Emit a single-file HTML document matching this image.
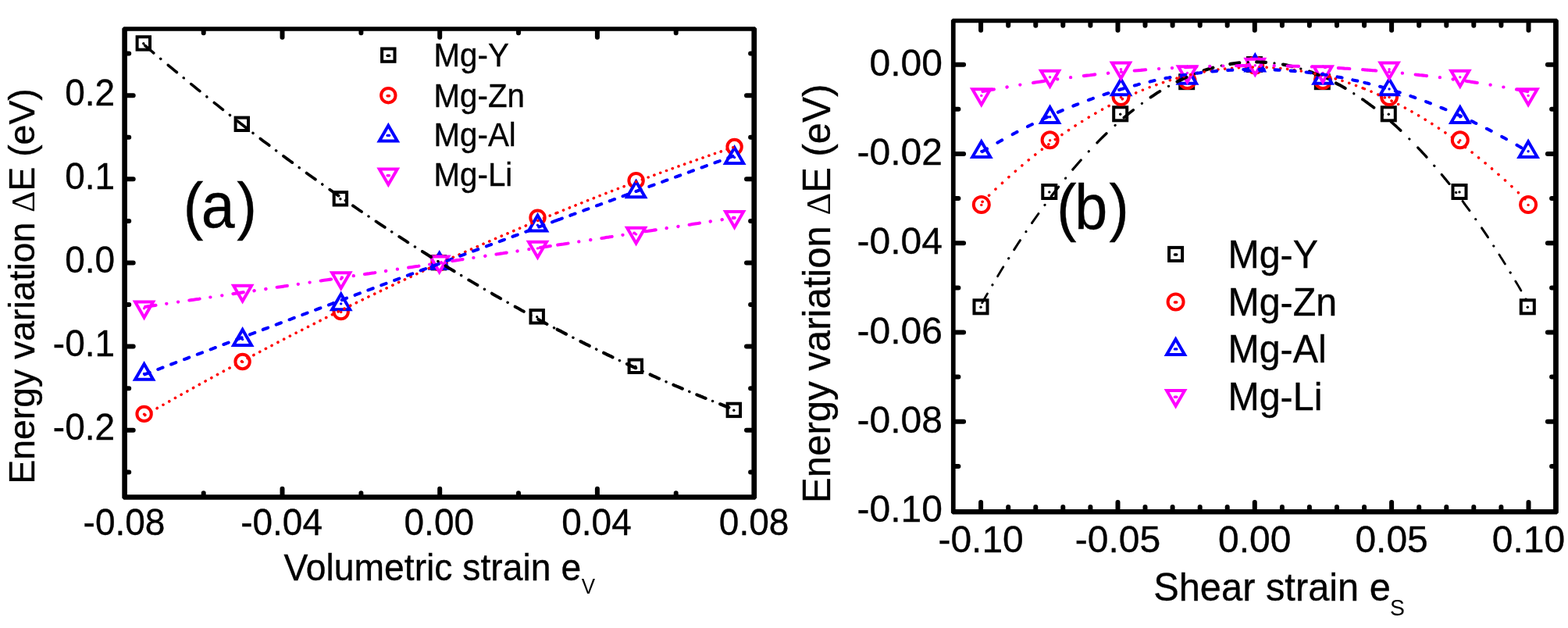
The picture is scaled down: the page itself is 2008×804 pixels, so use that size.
<!DOCTYPE html>
<html lang="en"><head><meta charset="utf-8"><title>Energy variation versus strain</title>
<style>html,body{margin:0;padding:0;background:#fff}body{width:2008px;height:804px;overflow:hidden}svg{display:block}text{font-family:'Liberation Sans',Arial,Helvetica,sans-serif;fill:#000;stroke:#000;stroke-width:.35px}.sym{font-family:'Liberation Serif','DejaVu Serif',serif;stroke-width:0}.sub{stroke-width:0}</style>
</head><body>
<svg width="2008" height="804" viewBox="0 0 2008 804" role="img" aria-label="Energy variation versus volumetric and shear strain for Mg-Y, Mg-Zn, Mg-Al and Mg-Li">
<rect width="2008" height="804" fill="#fff"/>
<g id="panel-a">
<g fill="#fff" stroke-width="4.0" stroke-linejoin="miter">
<rect x="175.6" y="47.2" width="16.4" height="16.4" stroke="#000000"/>
<circle cx="183.8" cy="55.8" r="1.7" fill="#000000"/>
<rect x="301.6" y="150.6" width="16.4" height="16.4" stroke="#000000"/>
<circle cx="309.8" cy="159.2" r="1.7" fill="#000000"/>
<rect x="427.7" y="246.1" width="16.4" height="16.4" stroke="#000000"/>
<circle cx="435.9" cy="254.7" r="1.7" fill="#000000"/>
<rect x="553.7" y="328.0" width="16.4" height="16.4" stroke="#000000"/>
<circle cx="561.9" cy="336.6" r="1.7" fill="#000000"/>
<rect x="679.5" y="397.1" width="16.4" height="16.4" stroke="#000000"/>
<circle cx="687.7" cy="405.7" r="1.7" fill="#000000"/>
<rect x="805.6" y="460.6" width="16.4" height="16.4" stroke="#000000"/>
<circle cx="813.8" cy="469.2" r="1.7" fill="#000000"/>
<rect x="931.6" y="516.7" width="16.4" height="16.4" stroke="#000000"/>
<circle cx="939.8" cy="525.3" r="1.7" fill="#000000"/>
<circle cx="184.6" cy="529.9" r="9.2" stroke="#ff0000"/>
<circle cx="184.6" cy="530.3" r="1.7" fill="#ff0000"/>
<circle cx="310.6" cy="463.0" r="9.2" stroke="#ff0000"/>
<circle cx="310.6" cy="463.4" r="1.7" fill="#ff0000"/>
<circle cx="436.7" cy="399.1" r="9.2" stroke="#ff0000"/>
<circle cx="436.7" cy="399.5" r="1.7" fill="#ff0000"/>
<circle cx="562.7" cy="336.3" r="9.2" stroke="#ff0000"/>
<circle cx="562.7" cy="336.7" r="1.7" fill="#ff0000"/>
<circle cx="688.5" cy="278.6" r="9.2" stroke="#ff0000"/>
<circle cx="688.5" cy="279.0" r="1.7" fill="#ff0000"/>
<circle cx="814.6" cy="231.2" r="9.2" stroke="#ff0000"/>
<circle cx="814.6" cy="231.6" r="1.7" fill="#ff0000"/>
<circle cx="940.6" cy="188.0" r="9.2" stroke="#ff0000"/>
<circle cx="940.6" cy="188.4" r="1.7" fill="#ff0000"/>
<path d="M173.1 485.8H196.1L184.6 466.0Z" stroke="#0000ff"/>
<circle cx="184.6" cy="478.5" r="1.7" fill="#0000ff"/>
<path d="M299.1 441.9H322.1L310.6 422.1Z" stroke="#0000ff"/>
<circle cx="310.6" cy="434.6" r="1.7" fill="#0000ff"/>
<path d="M425.2 396.2H448.2L436.7 376.4Z" stroke="#0000ff"/>
<circle cx="436.7" cy="388.9" r="1.7" fill="#0000ff"/>
<path d="M551.2 343.7H574.2L562.7 323.9Z" stroke="#0000ff"/>
<circle cx="562.7" cy="336.4" r="1.7" fill="#0000ff"/>
<path d="M677.0 295.6H700.0L688.5 275.8Z" stroke="#0000ff"/>
<circle cx="688.5" cy="288.3" r="1.7" fill="#0000ff"/>
<path d="M803.1 252.3H826.1L814.6 232.5Z" stroke="#0000ff"/>
<circle cx="814.6" cy="245.0" r="1.7" fill="#0000ff"/>
<path d="M929.1 208.9H952.1L940.6 189.1Z" stroke="#0000ff"/>
<circle cx="940.6" cy="201.6" r="1.7" fill="#0000ff"/>
<path d="M173.1 386.6H196.1L184.6 406.4Z" stroke="#ff00ff"/>
<circle cx="184.6" cy="394.7" r="1.7" fill="#ff00ff"/>
<path d="M299.1 365.8H322.1L310.6 385.6Z" stroke="#ff00ff"/>
<circle cx="310.6" cy="373.9" r="1.7" fill="#ff00ff"/>
<path d="M425.2 349.2H448.2L436.7 369.0Z" stroke="#ff00ff"/>
<circle cx="436.7" cy="357.3" r="1.7" fill="#ff00ff"/>
<path d="M551.2 328.4H574.2L562.7 348.2Z" stroke="#ff00ff"/>
<circle cx="562.7" cy="336.5" r="1.7" fill="#ff00ff"/>
<path d="M677.0 309.8H700.0L688.5 329.6Z" stroke="#ff00ff"/>
<circle cx="688.5" cy="317.9" r="1.7" fill="#ff00ff"/>
<path d="M803.1 291.8H826.1L814.6 311.6Z" stroke="#ff00ff"/>
<circle cx="814.6" cy="299.9" r="1.7" fill="#ff00ff"/>
<path d="M929.1 271.1H952.1L940.6 290.9Z" stroke="#ff00ff"/>
<circle cx="940.6" cy="279.2" r="1.7" fill="#ff00ff"/>
</g>
<g fill="none" stroke-linecap="round" stroke-linejoin="round">
<path d="M205.6 75.2L205.7 75.3L205.8 75.4M235.2 99.8L235.3 99.9L235.4 99.9M264.8 123.8L264.9 124.0L264.9 124.0M294.3 147.3L294.5 147.5L294.5 147.5M323.9 170.3L324.1 170.4M353.5 192.7L353.7 192.9M383.1 214.6L383.3 214.7L383.3 214.7M412.7 235.9L412.9 236.1L412.9 236.1M442.3 256.7L442.5 256.8L442.5 256.9M472.0 277.0L472.1 277.1L472.2 277.1M501.6 296.7L501.7 296.8L501.8 296.9M531.3 315.9L531.5 316.0M560.9 334.5L561.1 334.7M590.6 352.6L590.8 352.7L590.8 352.8M620.3 370.2L620.4 370.2L620.5 370.3M650.0 387.2L650.2 387.3M679.7 403.6L679.9 403.7L679.9 403.8M709.4 419.6L709.5 419.6L709.6 419.7M733.8 432.2L734.0 432.3L734.0 432.3M763.6 447.1L763.6 447.1L763.8 447.2M793.3 461.5L793.4 461.5L793.5 461.6M823.1 475.3L823.2 475.4L823.3 475.4M852.9 488.6L853.0 488.6L853.1 488.7M882.7 501.3L882.7 501.3L882.9 501.4M912.5 513.5L912.5 513.5L912.7 513.5" stroke="#000000" stroke-width="3.4"/>
<path d="M185.6 58.3L185.7 58.3L189.9 61.9L194.1 65.5L196.8 67.8M215.2 83.2L215.2 83.3L219.5 86.8L223.7 90.3L226.4 92.5M244.7 107.6L244.8 107.7L249.1 111.1L253.3 114.6L255.9 116.7M274.3 131.5L274.4 131.6L278.7 134.9L282.9 138.3L285.5 140.4M303.9 154.8L304.0 154.9L308.2 158.2L312.5 161.5L315.1 163.5" stroke="#000000" stroke-width="3.6"/>
<path d="M333.4 177.6L333.6 177.7L337.8 180.9L342.1 184.1L344.7 186.1M363.0 199.8L363.2 200.0L367.4 203.1L371.7 206.2L374.3 208.1M392.6 221.5L392.8 221.7L397.0 224.7L401.3 227.7L403.9 229.6M422.3 242.7L422.4 242.8L426.6 245.8L430.8 248.7L433.5 250.6M451.9 263.3L452.0 263.4L456.2 266.3L460.4 269.2L463.1 271.0M481.5 283.4L481.6 283.5L485.8 286.3L490.0 289.1L492.8 290.9M511.2 303.0L511.5 303.2L515.7 305.9L520.0 308.7L522.4 310.3" stroke="#000000" stroke-width="3.8"/>
<path d="M540.8 322.0L541.1 322.1L545.3 324.8L549.6 327.5L552.1 329.0M570.5 340.4L570.7 340.6L574.9 343.1L579.2 345.7L581.8 347.3M600.2 358.4L600.3 358.4L604.5 360.9L608.7 363.4L611.5 365.0M629.9 375.7L630.2 375.9L634.5 378.4L638.7 380.8L641.2 382.2M659.6 392.6L659.8 392.7L664.1 395.0L668.3 397.4L670.9 398.8M689.3 408.8L689.4 408.9L693.6 411.2L697.9 413.4L700.6 414.9" stroke="#000000" stroke-width="4"/>
<path d="M713.7 421.8L713.7 421.8L715.6 422.8L717.4 423.7L719.2 424.7L721.0 425.6L722.9 426.6L724.7 427.5L725.0 427.7M743.4 437.1L743.5 437.1L745.4 438.0L747.2 439.0L749.0 439.9L750.8 440.8L752.7 441.7L754.5 442.6L754.7 442.7M773.2 451.8L773.2 451.8L775.0 452.7L776.8 453.6L778.7 454.5L780.5 455.3L782.3 456.2L784.1 457.1L784.5 457.3M802.9 466.0L803.0 466.0L804.8 466.9L806.6 467.7L808.5 468.6L810.3 469.4L812.1 470.3L813.9 471.1L814.2 471.2M832.7 479.6L832.8 479.7L834.6 480.5L836.4 481.3L838.3 482.1L840.1 482.9L841.9 483.8L843.7 484.6L844.0 484.7M862.5 492.7L862.6 492.8L864.4 493.6L866.2 494.4L868.1 495.1L869.9 495.9L871.7 496.7L873.5 497.5L873.8 497.6M892.3 505.3L892.4 505.3L894.2 506.1L896.0 506.8L897.9 507.6L899.7 508.3L901.5 509.1L903.3 509.8L903.6 509.9M922.1 517.3L922.2 517.3L924.0 518.0L925.9 518.8L927.7 519.5L929.5 520.2L931.3 520.9L933.1 521.6L933.4 521.7" stroke="#000000" stroke-width="4.2"/>
<path d="M185.7 531.5L185.9 531.4M193.4 527.1L193.6 527.0M201.1 522.7L201.2 522.6L201.3 522.5M208.9 518.3L208.9 518.2L209.1 518.2M216.6 513.9L216.7 513.9L216.8 513.8M224.3 509.5L224.4 509.5L224.5 509.4M232.1 505.2L232.2 505.1L232.2 505.1M239.8 500.9L239.9 500.8L240.0 500.8M247.5 496.6L247.7 496.5L247.7 496.5M255.2 492.3L255.4 492.2L255.4 492.2M263.0 488.0L263.2 487.9L263.2 487.9M270.7 483.8L270.9 483.7M278.4 479.6L278.6 479.4M286.2 475.3L286.4 475.2M293.9 471.2L294.1 471.1M301.6 467.0L301.8 466.9M309.4 462.8L309.6 462.7M317.1 458.7L317.3 458.6M324.8 454.6L325.0 454.5M332.6 450.5L332.6 450.5L332.8 450.4M340.3 446.4L340.3 446.4L340.5 446.3M348.0 442.4L348.1 442.3L348.2 442.3M355.8 438.3L355.8 438.3L356.0 438.2M363.5 434.3L363.6 434.3L363.7 434.2M371.2 430.3L371.3 430.3L371.4 430.2M379.0 426.3L379.1 426.3L379.2 426.2M386.7 422.4L386.8 422.3L386.9 422.3M394.4 418.4L394.6 418.4L394.6 418.3M402.2 414.5L402.3 414.4L402.4 414.4M409.9 410.6L410.1 410.5L410.1 410.5M417.6 406.7L417.8 406.6L417.8 406.6M425.4 402.8L425.6 402.7L425.6 402.7M433.1 399.0L433.3 398.9L433.3 398.9M440.9 395.2L441.1 395.1M448.6 391.3L448.8 391.2M456.3 387.6L456.5 387.5M464.1 383.8L464.3 383.7M471.8 380.0L472.0 379.9M479.6 376.3L479.8 376.2M487.3 372.6L487.5 372.5M495.0 368.9L495.2 368.8M502.8 365.2L503.0 365.1M510.5 361.5L510.7 361.4M518.3 357.9L518.5 357.8M526.0 354.3L526.2 354.2M533.7 350.7L533.9 350.6M541.5 347.1L541.7 347.0M549.2 343.5L549.4 343.4M557.0 340.0L557.2 339.9M564.7 336.4L564.9 336.3M572.5 332.9L572.7 332.8M580.2 329.4L580.4 329.3M588.0 326.0L588.0 326.0L588.2 325.9M595.7 322.5L595.7 322.5L595.9 322.4M603.4 319.1L603.5 319.1L603.6 319.0M611.2 315.7L611.2 315.7L611.4 315.6M618.9 312.3L619.0 312.3L619.1 312.2M626.7 308.9L626.7 308.9L626.9 308.8M634.4 305.5L634.5 305.5L634.6 305.4M642.2 302.2L642.2 302.2L642.4 302.1M649.9 298.9L650.0 298.9L650.1 298.8M657.7 295.6L657.7 295.6L657.9 295.5M665.4 292.3L665.5 292.3L665.6 292.2M673.2 289.0L673.2 289.0L673.4 288.9M680.9 285.8L681.0 285.8L681.1 285.7M688.7 282.5L688.7 282.5L688.9 282.5M696.4 279.3L696.5 279.3L696.6 279.3M704.2 276.2L704.2 276.1L704.4 276.1M711.9 273.0L712.0 273.0L712.1 272.9M713.8 272.2L713.9 272.2L714.0 272.2M721.5 269.1L721.6 269.0L721.7 269.0M729.3 266.0L729.4 265.9L729.5 265.9M737.0 262.9L737.1 262.8L737.2 262.8M744.8 259.8L744.9 259.7L745.0 259.7M752.5 256.7L752.7 256.7L752.7 256.6M760.3 253.7L760.4 253.6L760.5 253.6M768.0 250.6L768.2 250.6L768.2 250.5M775.8 247.6L775.9 247.6L776.0 247.5M783.5 244.6L783.7 244.6L783.7 244.5M791.3 241.6L791.4 241.6L791.5 241.6M799.1 238.7L799.2 238.6L799.2 238.6M806.8 235.7L806.9 235.7L807.0 235.7M814.6 232.8L814.7 232.8L814.8 232.8M822.3 229.9L822.5 229.9L822.5 229.9M830.1 227.0L830.2 227.0L830.3 227.0M837.8 224.2L838.0 224.1L838.0 224.1M845.6 221.3L845.7 221.3L845.8 221.3M853.4 218.5L853.5 218.5L853.6 218.5M861.1 215.7L861.2 215.7L861.3 215.6M868.9 212.9L869.0 212.9L869.1 212.9M876.6 210.2L876.7 210.1L876.8 210.1M884.4 207.4L884.5 207.4L884.6 207.4M892.2 204.7L892.2 204.7L892.3 204.6M899.9 202.0L900.0 202.0L900.1 201.9M907.7 199.3L907.8 199.3L907.9 199.2M915.4 196.6L915.5 196.6L915.6 196.6M923.2 194.0L923.3 193.9L923.4 193.9M931.0 191.3L931.0 191.3L931.2 191.3M938.7 188.7L938.8 188.7L938.9 188.7" stroke="#ff0000" stroke-width="3.6"/>
<path d="M185.4 479.3L185.7 479.2L189.9 477.6L191.7 476.9M202.3 472.9L202.6 472.8L206.8 471.2L208.5 470.5M219.1 466.5L219.1 466.5L223.4 464.9L225.3 464.1M235.9 460.1L236.0 460.1L240.3 458.5L242.2 457.7M252.7 453.7L252.9 453.7L257.2 452.1L259.0 451.4M269.6 447.4L269.9 447.3L274.1 445.7L275.8 445.0M286.4 441.0L286.4 441.0L290.6 439.4L292.6 438.6M303.2 434.6L303.3 434.6L307.5 433.0L309.5 432.3M320.0 428.3L320.2 428.2L324.5 426.6L326.3 425.9M336.8 422.0L337.1 421.8L341.4 420.3L343.1 419.6M353.7 415.6L353.7 415.6L357.9 414.0L359.9 413.3M370.5 409.3L370.6 409.3L374.8 407.7L376.7 406.9M387.3 403.0L387.5 402.9L391.7 401.3L393.6 400.6M404.1 396.7L404.4 396.6L408.6 395.0L410.4 394.3M421.0 390.4L421.0 390.4L425.2 388.8L427.2 388.0M437.8 384.1L437.9 384.0L442.1 382.4L444.0 381.7M454.6 377.8L454.8 377.7L459.0 376.1L460.9 375.4M471.4 371.5L471.7 371.4L475.9 369.8L477.7 369.2M488.3 365.2L488.3 365.2L492.5 363.6L494.5 362.9M505.1 358.9L505.2 358.9L509.4 357.3L511.3 356.6M521.9 352.7L522.1 352.6L526.3 351.0L528.2 350.4M538.7 346.4L539.0 346.3L543.2 344.8L545.0 344.1M555.6 340.2L555.9 340.1L560.1 338.5L561.8 337.9M572.4 333.9L572.5 333.9L576.7 332.4L578.6 331.6M589.2 327.7L589.4 327.7L593.6 326.1L595.5 325.4M606.0 321.5L606.3 321.4L610.5 319.8L612.3 319.2M622.9 315.3L623.2 315.2L627.4 313.6L629.1 313.0M639.7 309.1L639.7 309.1L644.0 307.5L645.9 306.8M656.5 302.9L656.7 302.8L660.9 301.3L662.8 300.6M673.3 296.7L673.6 296.6L677.8 295.0L679.6 294.4M690.2 290.5L690.5 290.4L694.7 288.8L696.4 288.2M707.0 284.3L707.0 284.3L711.3 282.7L712.7 282.2M713.5 281.9L713.6 281.9L715.4 281.2L717.2 280.6L719.1 279.9L719.8 279.6M730.3 275.8L730.5 275.7L732.3 275.0L734.1 274.4L735.9 273.7L736.6 273.5M747.2 269.6L747.2 269.6L749.0 268.9L750.8 268.2L752.7 267.6L753.4 267.3M764.0 263.4L764.1 263.4L765.9 262.7L767.7 262.1L769.5 261.4L770.2 261.2M780.8 257.3L780.9 257.2L782.8 256.6L784.6 255.9L786.4 255.2L787.1 255.0M797.6 251.2L797.7 251.1L799.5 250.5L801.3 249.8L803.1 249.1L803.9 248.9M814.5 245.0L814.5 245.0L816.4 244.3L818.2 243.7L820.0 243.0L820.7 242.7M831.3 238.9L831.4 238.9L833.2 238.2L835.1 237.5L836.9 236.9L837.6 236.6M848.1 232.8L848.1 232.8L850.0 232.1L851.8 231.4L853.6 230.8L854.4 230.5M865.0 226.7L865.0 226.6L866.9 226.0L868.7 225.3L870.5 224.7L871.2 224.4M881.8 220.6L881.9 220.5L883.7 219.9L885.6 219.2L887.4 218.5L888.0 218.3M898.6 214.5L898.6 214.5L900.5 213.8L902.3 213.1L904.1 212.5L904.9 212.2M915.4 208.4L915.5 208.4L917.3 207.7L919.2 207.0L921.0 206.4L921.7 206.1M932.3 202.3L932.4 202.3L934.2 201.6L936.0 200.9L937.9 200.3L938.5 200.0" stroke="#0000ff" stroke-width="4.1"/>
<path d="M186.1 392.8L186.4 392.7L190.6 392.1L194.8 391.5L199.0 390.9L199.5 390.8M242.3 384.5L242.4 384.5L246.6 383.9L250.8 383.2L255.1 382.6L255.6 382.5M298.4 376.2L298.7 376.1L303.0 375.5L307.2 374.9L311.4 374.3L311.8 374.2M354.6 367.8L354.8 367.8L359.0 367.2L363.2 366.6L367.4 365.9L367.9 365.9M410.7 359.5L410.8 359.5L415.0 358.8L419.2 358.2L423.4 357.6L424.1 357.5M466.9 351.0L467.1 351.0L471.4 350.4L475.6 349.7L479.8 349.1L480.3 349.0M523.1 342.6L523.1 342.6L527.4 341.9L531.6 341.3L535.8 340.7L536.4 340.6M579.2 334.1L579.5 334.1L583.7 333.4L588.0 332.8L592.2 332.1L592.6 332.1M635.4 325.6L635.5 325.6L639.7 324.9L644.0 324.3L648.2 323.6L648.8 323.6M691.6 317.0L691.9 317.0L696.1 316.3L700.3 315.7L704.6 315.0L704.9 315.0M714.2 313.6L714.2 313.6L716.0 313.3L717.8 313.0L719.7 312.7L721.5 312.5L723.3 312.2L725.1 311.9L727.0 311.6L727.5 311.5M770.3 305.0L770.4 305.0L772.3 304.7L774.1 304.4L775.9 304.1L777.7 303.8L779.6 303.6L781.4 303.3L783.2 303.0L783.7 302.9M826.5 296.3L826.6 296.3L828.4 296.0L830.2 295.8L832.0 295.5L833.9 295.2L835.7 294.9L837.5 294.6L839.3 294.4L839.8 294.3M882.6 287.7L882.7 287.7L884.5 287.4L886.3 287.1L888.1 286.8L890.0 286.5L891.8 286.2L893.6 286.0L895.4 285.7L896.0 285.6M938.8 279.0L938.9 278.9L940.6 278.7" stroke="#ff00ff" stroke-width="4.1"/>
<path d="M213.2 388.8L213.4 388.8M228.0 386.6L228.2 386.6M269.3 380.5L269.5 380.5L269.5 380.5M284.2 378.3L284.3 378.3L284.4 378.3M325.5 372.2L325.5 372.2L325.7 372.1M340.3 370.0L340.5 369.9M381.7 363.8L381.9 363.8M396.5 361.6L396.7 361.6L396.7 361.6M437.8 355.4L437.9 355.4L438.0 355.4M452.7 353.2L452.7 353.2L452.9 353.2M494.0 347.0L494.2 346.9M508.8 344.7L509.0 344.7M550.1 338.5L550.3 338.5L550.3 338.5M565.0 336.3L565.1 336.3L565.2 336.2M606.3 330.0L606.5 330.0M621.2 327.8L621.4 327.7M662.5 321.5L662.6 321.4L662.7 321.4M677.3 319.2L677.4 319.2L677.5 319.2M741.2 309.4L741.3 309.4L741.4 309.4M756.1 307.2L756.2 307.2L756.3 307.1M797.4 300.8L797.5 300.8L797.6 300.8M812.2 298.5L812.3 298.5L812.4 298.5M853.5 292.2L853.6 292.2L853.7 292.1M868.4 289.9L868.5 289.8L868.6 289.8M909.7 283.5L909.7 283.5L909.9 283.4M924.6 281.2L924.6 281.2L924.8 281.1" stroke="#ff00ff" stroke-width="4.2"/>
</g>
<path d="M361.5 635.5V625.7M361.5 38.0V47.8M563.2 635.5V625.7M563.2 38.0V47.8M764.9 635.5V625.7M764.9 38.0V47.8M260.7 635.5V631.3M260.7 38.0V42.2M462.4 635.5V631.3M462.4 38.0V42.2M664.0 635.5V631.3M664.0 38.0V42.2M865.7 635.5V631.3M865.7 38.0V42.2M160.6 550.8H170.7M964.8 550.8H956.0M160.6 443.6H170.7M964.8 443.6H956.0M160.6 336.5H170.7M964.8 336.5H956.0M160.6 229.3H170.7M964.8 229.3H956.0M160.6 122.2H170.7M964.8 122.2H956.0M160.6 604.4H165.2M964.8 604.4H961.1M160.6 497.2H165.2M964.8 497.2H961.1M160.6 390.1H165.2M964.8 390.1H961.1M160.6 282.9H165.2M964.8 282.9H961.1M160.6 175.8H165.2M964.8 175.8H961.1M160.6 68.6H165.2M964.8 68.6H961.1" stroke="#000" stroke-width="6.0" stroke-linecap="round" fill="none"/>
<path d="M158.50 34.20H966.90L969.10 36.40V637.45L966.90 639.65H158.50L156.30 637.45V36.40ZM162.90 39.70V633.35H962.40V39.70Z" fill="#000" fill-rule="evenodd"/>
<text transform="translate(159.0 684.6) scale(1.0 1.035)" font-size="46" text-anchor="middle">-0.08</text>
<text transform="translate(360.6 684.6) scale(1.0 1.035)" font-size="46" text-anchor="middle">-0.04</text>
<text transform="translate(562.3 684.6) scale(1.0 1.035)" font-size="46" text-anchor="middle">0.00</text>
<text transform="translate(764.0 684.6) scale(1.0 1.035)" font-size="46" text-anchor="middle">0.04</text>
<text transform="translate(965.6 684.6) scale(1.0 1.035)" font-size="46" text-anchor="middle">0.08</text>
<text transform="translate(147.1 134.8) scale(1.0 1.03)" font-size="46" text-anchor="end">0.2</text>
<text transform="translate(147.1 241.9) scale(1.0 1.03)" font-size="46" text-anchor="end">0.1</text>
<text transform="translate(147.1 349.1) scale(1.0 1.03)" font-size="46" text-anchor="end">0.0</text>
<text transform="translate(147.1 456.2) scale(1.0 1.03)" font-size="46" text-anchor="end">-0.1</text>
<text transform="translate(147.1 563.4) scale(1.0 1.03)" font-size="46" text-anchor="end">-0.2</text>
<text transform="translate(363.4 742.6) scale(1.0 1.03)" font-size="46.3" text-anchor="start">Volumetric strain e<tspan class="sub" font-size="26" dx="0.6" dy="16.4">V</tspan></text>
<text transform="translate(43.6 366.5) rotate(-90)" font-size="46.4" text-anchor="middle">Energy variation <tspan class="sym" font-size="42">Δ</tspan>E (eV)</text>
<text transform="translate(281.8 291.0) scale(1.0 1.06)" font-size="77" text-anchor="middle">(<tspan dx="-2.6">a</tspan><tspan dx="2.6">)</tspan></text>
<g fill="#fff" stroke-width="4.0">
<rect x="489.1" y="62.4" width="16.4" height="16.4" stroke="#000000"/>
<path d="M496.1 71.2h2.4" stroke="#000000" stroke-width="3.4" stroke-linecap="round"/>
<circle cx="497.3" cy="122.2" r="9.2" stroke="#ff0000"/>
<path d="M496.1 122.8h2.4" stroke="#ff0000" stroke-width="3.4" stroke-linecap="round"/>
<path d="M485.8 180.5H508.8L497.3 160.7Z" stroke="#0000ff"/>
<path d="M496.1 173.4h2.4" stroke="#0000ff" stroke-width="3.4" stroke-linecap="round"/>
<path d="M485.8 216.5H508.8L497.3 236.3Z" stroke="#ff00ff"/>
<path d="M496.1 224.8h2.4" stroke="#ff00ff" stroke-width="3.4" stroke-linecap="round"/>
</g>
<text transform="translate(555.5 85.4) scale(1.0 1.04)" font-size="40.3" text-anchor="start">Mg-Y</text>
<text transform="translate(555.5 136.9) scale(1.0 1.04)" font-size="40.3" text-anchor="start">Mg-Zn</text>
<text transform="translate(555.5 187.3) scale(1.0 1.04)" font-size="40.3" text-anchor="start">Mg-Al</text>
<text transform="translate(555.5 238.2) scale(1.0 1.04)" font-size="40.3" text-anchor="start">Mg-Li</text>
</g>
<g id="panel-b">
<g fill="#fff" stroke-width="4.0" stroke-linejoin="miter">
<rect x="1247.5" y="384.3" width="17.0" height="17.0" stroke="#000000"/>
<circle cx="1256.0" cy="393.2" r="1.7" fill="#000000"/>
<rect x="1335.3" y="237.0" width="17.0" height="17.0" stroke="#000000"/>
<circle cx="1343.8" cy="245.9" r="1.7" fill="#000000"/>
<rect x="1426.2" y="137.3" width="17.0" height="17.0" stroke="#000000"/>
<circle cx="1434.7" cy="146.2" r="1.7" fill="#000000"/>
<rect x="1511.2" y="96.2" width="17.0" height="17.0" stroke="#000000"/>
<circle cx="1519.7" cy="105.1" r="1.7" fill="#000000"/>
<rect x="1598.0" y="74.0" width="17.0" height="17.0" stroke="#000000"/>
<circle cx="1606.5" cy="82.9" r="1.7" fill="#000000"/>
<rect x="1684.8" y="96.2" width="17.0" height="17.0" stroke="#000000"/>
<circle cx="1693.3" cy="105.1" r="1.7" fill="#000000"/>
<rect x="1769.8" y="137.3" width="17.0" height="17.0" stroke="#000000"/>
<circle cx="1778.3" cy="146.2" r="1.7" fill="#000000"/>
<rect x="1860.5" y="237.0" width="17.0" height="17.0" stroke="#000000"/>
<circle cx="1869.0" cy="245.9" r="1.7" fill="#000000"/>
<rect x="1947.8" y="384.3" width="17.0" height="17.0" stroke="#000000"/>
<circle cx="1956.3" cy="393.2" r="1.7" fill="#000000"/>
<circle cx="1256.8" cy="262.0" r="10.0" stroke="#ff0000"/>
<circle cx="1256.8" cy="262.4" r="1.7" fill="#ff0000"/>
<circle cx="1344.6" cy="179.3" r="10.0" stroke="#ff0000"/>
<circle cx="1344.6" cy="179.7" r="1.7" fill="#ff0000"/>
<circle cx="1435.5" cy="124.1" r="10.0" stroke="#ff0000"/>
<circle cx="1435.5" cy="124.5" r="1.7" fill="#ff0000"/>
<circle cx="1520.5" cy="103.0" r="10.0" stroke="#ff0000"/>
<circle cx="1520.5" cy="103.4" r="1.7" fill="#ff0000"/>
<circle cx="1607.3" cy="83.5" r="10.0" stroke="#ff0000"/>
<circle cx="1607.3" cy="83.9" r="1.7" fill="#ff0000"/>
<circle cx="1694.1" cy="103.0" r="10.0" stroke="#ff0000"/>
<circle cx="1694.1" cy="103.4" r="1.7" fill="#ff0000"/>
<circle cx="1779.1" cy="124.1" r="10.0" stroke="#ff0000"/>
<circle cx="1779.1" cy="124.5" r="1.7" fill="#ff0000"/>
<circle cx="1869.8" cy="179.3" r="10.0" stroke="#ff0000"/>
<circle cx="1869.8" cy="179.7" r="1.7" fill="#ff0000"/>
<circle cx="1957.1" cy="262.0" r="10.0" stroke="#ff0000"/>
<circle cx="1957.1" cy="262.4" r="1.7" fill="#ff0000"/>
<path d="M1245.3 201.0H1268.3L1256.8 181.2Z" stroke="#0000ff"/>
<circle cx="1256.8" cy="193.7" r="1.7" fill="#0000ff"/>
<path d="M1333.1 157.1H1356.1L1344.6 137.3Z" stroke="#0000ff"/>
<circle cx="1344.6" cy="149.8" r="1.7" fill="#0000ff"/>
<path d="M1424.0 121.3H1447.0L1435.5 101.5Z" stroke="#0000ff"/>
<circle cx="1435.5" cy="114.0" r="1.7" fill="#0000ff"/>
<path d="M1509.0 106.7H1532.0L1520.5 86.9Z" stroke="#0000ff"/>
<circle cx="1520.5" cy="99.4" r="1.7" fill="#0000ff"/>
<path d="M1595.8 90.6H1618.8L1607.3 70.8Z" stroke="#0000ff"/>
<circle cx="1607.3" cy="83.3" r="1.7" fill="#0000ff"/>
<path d="M1682.6 106.7H1705.6L1694.1 86.9Z" stroke="#0000ff"/>
<circle cx="1694.1" cy="99.4" r="1.7" fill="#0000ff"/>
<path d="M1767.6 121.3H1790.6L1779.1 101.5Z" stroke="#0000ff"/>
<circle cx="1779.1" cy="114.0" r="1.7" fill="#0000ff"/>
<path d="M1858.3 157.1H1881.3L1869.8 137.3Z" stroke="#0000ff"/>
<circle cx="1869.8" cy="149.8" r="1.7" fill="#0000ff"/>
<path d="M1945.6 201.0H1968.6L1957.1 181.2Z" stroke="#0000ff"/>
<circle cx="1957.1" cy="193.7" r="1.7" fill="#0000ff"/>
<path d="M1245.3 114.3H1268.3L1256.8 134.1Z" stroke="#ff00ff"/>
<circle cx="1256.8" cy="122.4" r="1.7" fill="#ff00ff"/>
<path d="M1333.1 90.7H1356.1L1344.6 110.5Z" stroke="#ff00ff"/>
<circle cx="1344.6" cy="98.8" r="1.7" fill="#ff00ff"/>
<path d="M1424.0 80.5H1447.0L1435.5 100.3Z" stroke="#ff00ff"/>
<circle cx="1435.5" cy="88.6" r="1.7" fill="#ff00ff"/>
<path d="M1509.0 85.3H1532.0L1520.5 105.1Z" stroke="#ff00ff"/>
<circle cx="1520.5" cy="93.4" r="1.7" fill="#ff00ff"/>
<path d="M1595.8 75.7H1618.8L1607.3 95.5Z" stroke="#ff00ff"/>
<circle cx="1607.3" cy="83.8" r="1.7" fill="#ff00ff"/>
<path d="M1682.6 85.3H1705.6L1694.1 105.1Z" stroke="#ff00ff"/>
<circle cx="1694.1" cy="93.4" r="1.7" fill="#ff00ff"/>
<path d="M1767.6 80.5H1790.6L1779.1 100.3Z" stroke="#ff00ff"/>
<circle cx="1779.1" cy="88.6" r="1.7" fill="#ff00ff"/>
<path d="M1858.3 90.7H1881.3L1869.8 110.5Z" stroke="#ff00ff"/>
<circle cx="1869.8" cy="98.8" r="1.7" fill="#ff00ff"/>
<path d="M1945.6 114.3H1968.6L1957.1 134.1Z" stroke="#ff00ff"/>
<circle cx="1957.1" cy="122.4" r="1.7" fill="#ff00ff"/>
</g>
<g fill="none" stroke-linecap="round" stroke-linejoin="round">
<path d="M1257.7 387.8L1257.8 387.6L1261.7 380.8L1264.5 375.9M1277.6 353.7L1277.7 353.5L1281.6 347.0L1284.8 341.8M1919.9 326.0L1920.1 326.2L1921.7 328.9L1923.4 331.6L1925.1 334.3L1926.8 337.0L1927.4 337.9M1940.8 360.1L1940.9 360.2L1942.6 363.0L1944.3 365.9L1946.0 368.8L1947.7 371.7L1947.9 372.0" stroke="#000000" stroke-width="2.8"/>
<path d="M1298.7 319.6L1298.9 319.4L1302.8 313.3L1306.5 307.7M1321.5 285.5L1321.7 285.1L1325.7 279.5L1329.6 274.0L1329.9 273.5M1873.1 257.6L1873.2 257.7L1874.8 260.0L1876.5 262.3L1878.2 264.6L1879.9 266.9L1881.6 269.2L1881.9 269.6M1897.5 291.8L1897.5 291.9L1899.2 294.4L1900.9 296.9L1902.6 299.4L1904.3 301.9L1905.5 303.8" stroke="#000000" stroke-width="3"/>
<path d="M1270.9 364.9L1271.0 364.7M1291.6 330.8L1291.7 330.7L1291.8 330.6M1313.9 296.7L1313.9 296.6L1314.0 296.5M1337.9 262.5L1338.1 262.3L1338.1 262.3M1364.4 228.2L1364.5 228.2L1364.6 228.0M1394.2 194.0L1394.4 193.7M1428.0 160.5L1428.1 160.4L1428.2 160.3M1462.3 132.5L1462.4 132.4L1462.5 132.3M1496.4 110.4L1496.6 110.3M1530.4 94.3L1530.6 94.2L1530.6 94.2M1564.3 84.1L1564.5 84.0L1564.5 84.0M1598.1 79.6L1598.1 79.6L1598.3 79.6M1631.9 80.9L1632.1 80.9M1665.7 88.0L1665.9 88.1M1699.7 100.9L1699.9 101.0M1733.7 119.7L1733.9 119.8L1733.9 119.9M1770.5 146.6L1770.6 146.7L1770.7 146.8M1804.8 177.8L1804.8 177.8L1805.0 178.0M1836.7 212.2L1836.8 212.3L1836.9 212.4M1864.6 246.4L1864.7 246.6L1864.7 246.6M1889.7 280.6L1889.8 280.7L1889.8 280.8M1912.7 314.8L1912.9 315.0M1934.1 348.9L1934.1 348.9L1934.3 349.1M1954.2 383.0L1954.3 383.2L1954.3 383.2" stroke="#000000" stroke-width="3.1"/>
<path d="M1346.3 251.3L1346.5 251.0L1350.5 245.8L1354.4 240.8L1355.6 239.3M1373.8 217.0L1374.0 216.8L1377.9 212.2L1381.8 207.7L1384.2 205.0M1846.2 223.4L1846.2 223.5L1847.9 225.5L1849.6 227.6L1851.3 229.6L1853.0 231.7L1854.7 233.8L1856.0 235.4" stroke="#000000" stroke-width="3.2"/>
<path d="M1405.0 182.7L1405.3 182.4L1409.2 178.4L1413.1 174.5L1417.0 170.8M1815.8 189.1L1815.8 189.1L1817.5 190.9L1819.2 192.7L1820.9 194.5L1822.6 196.3L1824.3 198.2L1826.0 200.0L1826.9 201.1" stroke="#000000" stroke-width="3.4"/>
<path d="M1439.3 150.6L1439.5 150.4L1443.5 147.1L1447.4 143.9L1451.3 140.8M1781.7 156.2L1781.7 156.2L1783.4 157.7L1785.1 159.2L1786.8 160.7L1788.5 162.2L1790.2 163.8L1791.9 165.4L1793.6 166.9L1793.7 167.1" stroke="#000000" stroke-width="3.6"/>
<path d="M1473.5 124.6L1473.8 124.4L1477.7 121.8L1481.6 119.2L1485.4 116.9M1744.9 127.2L1745.0 127.2L1746.0 127.9M1747.5 129.0L1747.5 129.0L1749.2 130.2L1750.9 131.4L1752.6 132.7L1754.3 133.9L1756.0 135.2L1757.7 136.4L1759.3 137.7L1759.5 137.8" stroke="#000000" stroke-width="3.8"/>
<path d="M1710.8 106.4L1711.0 106.6L1715.0 108.6L1718.9 110.8L1722.8 113.0" stroke="#000000" stroke-width="4"/>
<path d="M1507.6 104.5L1507.7 104.4L1511.7 102.5L1515.6 100.6L1519.5 98.9L1519.5 98.8M1541.6 90.3L1541.7 90.3L1545.6 89.0L1549.5 87.8L1553.4 86.7L1553.4 86.7M1575.4 82.0L1575.6 81.9L1579.5 81.3L1583.5 80.8L1587.3 80.4M1609.2 79.4L1609.2 79.4L1613.1 79.5L1617.1 79.6L1621.0 79.9L1621.0 79.9M1643.0 82.6L1643.2 82.6L1647.1 83.4L1651.0 84.2L1654.8 85.1M1676.8 91.6L1677.1 91.7L1681.0 93.1L1684.9 94.6L1688.7 96.1" stroke="#000000" stroke-width="4.2"/>
<path d="M1258.1 258.4L1258.1 258.4L1258.3 258.3M1266.5 250.2L1266.6 250.1L1266.7 250.0M1274.9 242.2L1275.1 242.1L1275.1 242.0M1283.4 234.4L1283.6 234.2M1291.8 226.7L1292.0 226.5M1300.3 219.3L1300.5 219.1M1308.8 212.0L1308.9 211.8M1317.2 204.9L1317.4 204.8M1325.7 198.1L1325.9 197.9M1334.3 191.4L1334.4 191.2M1342.8 184.9L1342.9 184.8L1343.0 184.8M1351.3 178.6L1351.4 178.5L1351.5 178.5M1359.9 172.5L1359.9 172.5L1360.0 172.4M1368.4 166.7L1368.6 166.5M1377.0 161.0L1377.2 160.8M1385.6 155.5L1385.7 155.4L1385.8 155.4M1394.2 150.2L1394.2 150.2L1394.3 150.1M1402.8 145.1L1403.0 145.0M1411.4 140.2L1411.5 140.2L1411.6 140.1M1420.0 135.6L1420.2 135.5M1428.7 131.1L1428.8 131.0L1428.8 131.0M1437.3 126.8L1437.5 126.7M1446.0 122.8L1446.1 122.7L1446.2 122.7M1454.7 118.9L1454.8 118.8M1463.3 115.2L1463.4 115.2L1463.5 115.2M1472.1 111.8L1472.2 111.8L1472.2 111.7M1480.8 108.6L1481.0 108.5M1489.5 105.6L1489.7 105.5M1498.2 102.8L1498.3 102.8L1498.4 102.7M1507.0 100.2L1507.1 100.1L1507.2 100.1M1515.8 97.8L1515.9 97.8L1516.0 97.7M1524.5 95.6L1524.7 95.6L1524.7 95.6M1533.3 93.7L1533.5 93.6L1533.5 93.6M1542.1 91.9L1542.3 91.9L1542.3 91.9M1551.0 90.4L1551.1 90.4L1551.2 90.4M1559.8 89.1L1560.0 89.1L1560.0 89.1M1568.6 88.1L1568.8 88.0L1568.8 88.0M1577.5 87.2L1577.6 87.2L1577.7 87.2M1586.4 86.6L1586.4 86.6L1586.6 86.5M1595.3 86.1L1595.5 86.1M1604.2 86.0L1604.3 86.0L1604.4 86.0M1613.1 86.0L1613.1 86.0L1613.3 86.0M1622.0 86.2L1622.2 86.3M1630.9 86.7L1631.0 86.7M1639.7 87.4L1639.9 87.4L1639.9 87.4M1648.6 88.3L1648.7 88.4L1648.8 88.4M1657.4 89.5L1657.5 89.5L1657.6 89.5M1666.2 90.9L1666.3 90.9L1666.4 90.9M1675.1 92.4L1675.1 92.5L1675.3 92.5M1683.9 94.2L1684.0 94.3L1684.1 94.3M1692.7 96.2L1692.8 96.3L1692.9 96.3M1701.4 98.5L1701.6 98.5L1701.6 98.5M1710.2 100.9L1710.4 101.0L1710.4 101.0M1718.9 103.6L1719.1 103.6M1727.7 106.4L1727.9 106.5M1736.4 109.5L1736.5 109.5L1736.6 109.6M1745.1 112.8L1745.3 112.9L1745.3 112.9M1747.3 113.7L1747.4 113.7L1747.5 113.7M1756.0 117.2L1756.1 117.3L1756.2 117.3M1764.7 121.0L1764.7 121.0L1764.9 121.1M1773.3 124.9L1773.4 125.0L1773.5 125.0M1782.0 129.1L1782.0 129.1L1782.2 129.2M1790.6 133.5L1790.8 133.5L1790.8 133.6M1799.3 138.1L1799.3 138.1L1799.5 138.2M1807.9 142.9L1807.9 142.9L1808.1 143.0M1816.5 147.8L1816.5 147.9L1816.7 148.0M1825.1 153.0L1825.1 153.0L1825.3 153.2M1833.7 158.4L1833.7 158.4L1833.9 158.6M1842.3 164.0L1842.3 164.1L1842.5 164.2M1850.8 169.8L1850.9 169.9L1851.0 170.0M1859.4 175.8L1859.5 175.9L1859.6 176.0M1867.9 182.0L1867.9 182.0L1868.1 182.2M1876.5 188.4L1876.5 188.5L1876.6 188.6M1885.0 195.0L1885.0 195.0L1885.2 195.1M1893.5 201.8L1893.6 201.9L1893.7 201.9M1902.0 208.8L1902.0 208.8L1902.2 208.9M1910.5 215.9L1910.5 215.9L1910.6 216.1M1918.9 223.3L1918.9 223.3L1919.1 223.5M1927.4 230.8L1927.4 230.8L1927.6 231.0M1935.8 238.6L1935.8 238.6L1936.0 238.8M1944.3 246.5L1944.3 246.6L1944.4 246.7M1952.7 254.7L1952.7 254.7L1952.9 254.8" stroke="#ff0000" stroke-width="3.5"/>
<path d="M1258.1 194.0L1258.4 193.8L1262.3 191.5L1264.0 190.5M1277.4 182.7L1277.7 182.5L1281.6 180.3L1283.2 179.4M1296.7 172.0L1296.9 171.9L1300.9 169.8L1302.5 168.9M1316.0 162.0L1316.2 161.9L1320.1 160.0L1321.9 159.1M1335.4 152.6L1335.4 152.6L1339.4 150.7L1341.3 149.8M1354.9 143.8L1355.0 143.7L1358.9 142.0L1360.8 141.2M1374.4 135.6L1374.6 135.5L1378.5 134.0L1380.3 133.3M1393.9 128.1L1394.2 128.0L1398.1 126.6L1399.9 125.9M1413.5 121.2L1413.8 121.1L1417.7 119.8L1419.5 119.3M1433.2 115.0L1433.3 114.9L1437.3 113.8L1439.1 113.2M1452.9 109.4L1452.9 109.4L1456.8 108.4L1458.9 107.8M1472.6 104.5L1472.8 104.4L1476.7 103.5L1478.6 103.1M1492.5 100.2L1492.7 100.1L1496.6 99.4L1498.5 99.0M1512.3 96.6L1512.6 96.6L1516.6 95.9L1518.3 95.7M1532.2 93.7L1532.5 93.6L1536.5 93.2L1538.3 92.9M1552.2 91.4L1552.4 91.4L1556.4 91.1L1558.3 90.9M1572.2 89.9L1572.4 89.9L1576.3 89.7L1578.3 89.6M1592.3 89.0L1592.6 89.0L1596.5 88.9L1598.4 88.9M1612.5 88.9L1612.5 88.9L1616.4 88.9L1618.6 88.9M1632.6 89.4L1632.7 89.4L1636.6 89.6L1638.6 89.7M1652.6 90.6L1652.6 90.6L1656.5 90.9L1658.7 91.1M1672.6 92.5L1672.9 92.5L1676.8 93.0L1678.7 93.2M1692.6 95.1L1692.8 95.1L1696.7 95.7L1698.6 96.0M1712.5 98.4L1712.7 98.4L1716.6 99.1L1718.5 99.5M1732.3 102.3L1732.6 102.4L1736.5 103.2L1738.3 103.6M1747.3 105.7L1747.4 105.7L1749.1 106.2L1750.7 106.6L1752.4 107.0L1753.3 107.2M1767.1 110.8L1767.1 110.8L1768.8 111.3L1770.5 111.8L1772.2 112.3L1773.0 112.5M1786.8 116.6L1786.8 116.6L1788.5 117.1L1790.2 117.7L1791.9 118.2L1792.7 118.5M1806.4 123.0L1806.5 123.1L1808.2 123.6L1809.9 124.2L1811.6 124.8L1812.3 125.1M1826.0 130.1L1826.1 130.1L1827.8 130.8L1829.5 131.4L1831.2 132.1L1831.9 132.3M1845.5 137.8L1845.5 137.8L1847.2 138.5L1848.9 139.2L1850.6 139.9L1851.4 140.2M1865.0 146.1L1865.1 146.2L1866.8 146.9L1868.5 147.7L1870.2 148.4L1870.9 148.8M1884.5 155.1L1884.6 155.1L1886.3 155.9L1887.9 156.8L1889.6 157.6L1890.3 157.9M1903.8 164.7L1903.9 164.7L1905.5 165.5L1907.2 166.4L1908.9 167.3L1909.7 167.7M1923.2 174.9L1923.3 174.9L1925.0 175.9L1926.7 176.8L1928.4 177.7L1929.0 178.1M1942.5 185.7L1942.6 185.8L1944.3 186.8L1946.0 187.7L1947.7 188.7L1948.3 189.1" stroke="#0000ff" stroke-width="4.1"/>
<path d="M1258.5 117.1L1258.8 117.0L1262.7 116.3L1266.6 115.5L1270.5 114.8L1272.9 114.4M1323.0 106.0L1323.4 105.9L1327.3 105.3L1331.2 104.7L1335.1 104.1L1337.5 103.8M1387.8 97.1L1388.0 97.1L1391.9 96.6L1395.8 96.2L1399.7 95.7L1402.3 95.4M1452.7 90.5L1452.9 90.5L1456.8 90.2L1460.8 89.9L1464.7 89.5L1467.2 89.3M1517.8 86.2L1517.9 86.2L1521.8 86.0L1525.7 85.8L1529.6 85.7L1532.4 85.5M1583.1 84.2L1583.5 84.2L1587.4 84.1L1591.3 84.1L1595.2 84.1L1597.7 84.0M1648.6 84.5L1648.7 84.5L1652.6 84.6L1656.5 84.7L1660.5 84.8L1663.1 84.9M1713.8 87.1L1714.0 87.1L1717.9 87.3L1721.8 87.6L1725.7 87.8L1728.3 88.0M1747.6 89.4L1747.6 89.4L1749.3 89.5L1751.0 89.6L1752.7 89.8L1754.4 89.9L1756.1 90.0L1757.8 90.2L1759.5 90.3L1761.2 90.4L1762.2 90.5M1812.6 95.5L1812.7 95.5L1814.4 95.7L1816.1 95.9L1817.8 96.1L1819.5 96.2L1821.2 96.4L1822.9 96.6L1824.6 96.8L1826.2 97.0L1827.1 97.1M1877.4 103.8L1877.5 103.8L1879.2 104.1L1880.9 104.3L1882.6 104.6L1884.3 104.9L1886.0 105.1L1887.7 105.4L1889.3 105.6L1891.0 105.9L1891.8 106.0M1942.0 114.4L1942.0 114.4L1943.7 114.8L1945.4 115.1L1947.1 115.4L1948.8 115.7L1950.5 116.0L1952.2 116.3L1953.9 116.6L1955.6 117.0L1956.4 117.1" stroke="#ff00ff" stroke-width="4.1"/>
<path d="M1289.5 111.5L1289.7 111.4M1306.3 108.6L1306.4 108.6L1306.4 108.6M1354.1 101.4L1354.3 101.4M1371.0 99.2L1371.0 99.2L1371.2 99.2M1419.0 93.7L1419.0 93.7L1419.2 93.6M1435.8 92.0L1436.0 92.0L1436.0 92.0M1484.0 88.1L1484.2 88.1M1500.9 87.1L1501.1 87.1M1549.2 84.9L1549.4 84.9M1566.2 84.5L1566.4 84.5M1614.6 84.0L1614.8 84.0L1614.8 84.0M1631.6 84.2L1631.7 84.2L1631.8 84.2M1679.9 85.5L1680.0 85.5L1680.1 85.5M1696.9 86.2L1697.0 86.2L1697.1 86.2M1745.1 89.2L1745.3 89.2M1778.9 92.0L1778.9 92.0L1779.1 92.0M1795.8 93.7L1795.8 93.7L1796.0 93.7M1843.8 99.2L1843.9 99.2L1844.0 99.2M1860.6 101.4L1860.6 101.4L1860.8 101.5M1908.5 108.7L1908.5 108.7L1908.7 108.7M1925.3 111.5L1925.3 111.5L1925.5 111.5" stroke="#ff00ff" stroke-width="4.2"/>
</g>
<path d="M1256.1 654.3V643.0M1256.1 27.5V38.8M1431.5 654.3V643.0M1431.5 27.5V38.8M1606.8 654.3V643.0M1606.8 27.5V38.8M1782.1 654.3V643.0M1782.1 27.5V38.8M1957.5 654.3V643.0M1957.5 27.5V38.8M1291.2 654.3V649.1M1291.2 27.5V32.7M1326.3 654.3V649.1M1326.3 27.5V32.7M1361.3 654.3V649.1M1361.3 27.5V32.7M1396.4 654.3V649.1M1396.4 27.5V32.7M1466.5 654.3V649.1M1466.5 27.5V32.7M1501.6 654.3V649.1M1501.6 27.5V32.7M1536.7 654.3V649.1M1536.7 27.5V32.7M1571.7 654.3V649.1M1571.7 27.5V32.7M1641.9 654.3V649.1M1641.9 27.5V32.7M1676.9 654.3V649.1M1676.9 27.5V32.7M1712.0 654.3V649.1M1712.0 27.5V32.7M1747.1 654.3V649.1M1747.1 27.5V32.7M1817.2 654.3V649.1M1817.2 27.5V32.7M1852.3 654.3V649.1M1852.3 27.5V32.7M1887.3 654.3V649.1M1887.3 27.5V32.7M1922.4 654.3V649.1M1922.4 27.5V32.7M1221.8 539.8H1234.1M1991.5 539.8H1981.9M1221.8 425.5H1234.1M1991.5 425.5H1981.9M1221.8 311.2H1234.1M1991.5 311.2H1981.9M1221.8 197.0H1234.1M1991.5 197.0H1981.9M1221.8 82.7H1234.1M1991.5 82.7H1981.9M1221.8 596.9H1227.4M1991.5 596.9H1987.1M1221.8 482.6H1227.4M1991.5 482.6H1987.1M1221.8 368.4H1227.4M1991.5 368.4H1987.1M1221.8 254.1H1227.4M1991.5 254.1H1987.1M1221.8 139.8H1227.4M1991.5 139.8H1987.1" stroke="#000" stroke-width="6.0" stroke-linecap="round" fill="none"/>
<path d="M1220.10 23.70H1993.65L1995.85 25.90V656.40L1993.65 658.60H1220.10L1217.90 656.40V25.90ZM1223.65 29.30V652.00H1989.10V29.30Z" fill="#000" fill-rule="evenodd"/>
<text transform="translate(1256.1 707.0) scale(1.0 1.02)" font-size="48" text-anchor="middle">-0.10</text>
<text transform="translate(1431.5 707.0) scale(1.0 1.02)" font-size="48" text-anchor="middle">-0.05</text>
<text transform="translate(1606.8 707.0) scale(1.0 1.02)" font-size="48" text-anchor="middle">0.00</text>
<text transform="translate(1782.1 707.0) scale(1.0 1.02)" font-size="48" text-anchor="middle">0.05</text>
<text transform="translate(1957.5 707.0) scale(1.0 1.02)" font-size="48" text-anchor="middle">0.10</text>
<text transform="translate(1207.0 96.8) scale(1.0 1.02)" font-size="48" text-anchor="end">0.00</text>
<text transform="translate(1207.0 211.1) scale(1.0 1.02)" font-size="48" text-anchor="end">-0.02</text>
<text transform="translate(1207.0 325.3) scale(1.0 1.02)" font-size="48" text-anchor="end">-0.04</text>
<text transform="translate(1207.0 439.6) scale(1.0 1.02)" font-size="48" text-anchor="end">-0.06</text>
<text transform="translate(1207.0 553.9) scale(1.0 1.02)" font-size="48" text-anchor="end">-0.08</text>
<text transform="translate(1207.0 668.2) scale(1.0 1.02)" font-size="48" text-anchor="end">-0.10</text>
<text transform="translate(1477.2 769.2) scale(1.0 1.01)" font-size="48.8" text-anchor="start">Shear strain e<tspan class="sub" font-size="28.4" dx="-0.8" dy="18.4">S</tspan></text>
<text transform="translate(1062.7 375.8) rotate(-90)" font-size="49.1" text-anchor="middle">Energy variation <tspan class="sym" font-size="44.5">Δ</tspan>E (eV)</text>
<text transform="translate(1399.4 293.2) scale(1.0 1.09)" font-size="75.5" text-anchor="middle">(<tspan dx="-2.2">b</tspan><tspan dx="2.2">)</tspan></text>
<g fill="#fff" stroke-width="4.0">
<rect x="1497.1" y="316.9" width="17.0" height="17.0" stroke="#000000"/>
<path d="M1504.4 326.0h2.4" stroke="#000000" stroke-width="3.4" stroke-linecap="round"/>
<circle cx="1505.6" cy="386.4" r="10.0" stroke="#ff0000"/>
<path d="M1504.4 387.0h2.4" stroke="#ff0000" stroke-width="3.4" stroke-linecap="round"/>
<path d="M1494.1 454.0H1517.1L1505.6 434.2Z" stroke="#0000ff"/>
<path d="M1504.4 446.9h2.4" stroke="#0000ff" stroke-width="3.4" stroke-linecap="round"/>
<path d="M1494.1 500.0H1517.1L1505.6 519.8Z" stroke="#ff00ff"/>
<path d="M1504.4 508.3h2.4" stroke="#ff00ff" stroke-width="3.4" stroke-linecap="round"/>
</g>
<text transform="translate(1572.4 342.7) scale(1.0 1.02)" font-size="48.4" text-anchor="start">Mg-Y</text>
<text transform="translate(1572.4 404.1) scale(1.0 1.02)" font-size="48.4" text-anchor="start">Mg-Zn</text>
<text transform="translate(1572.4 463.7) scale(1.0 1.02)" font-size="48.4" text-anchor="start">Mg-Al</text>
<text transform="translate(1572.4 524.8) scale(1.0 1.02)" font-size="48.4" text-anchor="start">Mg-Li</text>
</g>
</svg>
</body></html>
